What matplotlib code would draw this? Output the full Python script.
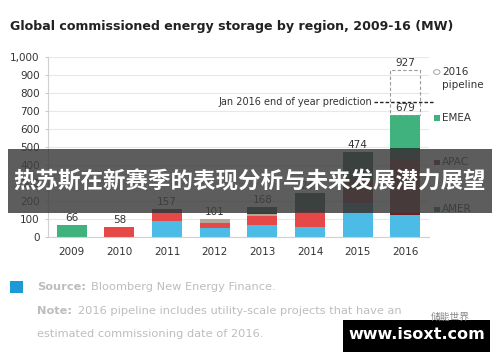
import numpy as np
import matplotlib.pyplot as plt
from matplotlib.patches import Rectangle, Circle

plt.rcParams['font.family'] = ['DejaVu Sans', 'Noto Sans CJK SC']

years = ['2009', '2010', '2011', '2012', '2013', '2014', '2015', '2016']
# segmentos de abajo hacia arriba (MW)
light_blue = [0, 0, 89, 48, 70, 57, 133, 122]
amer = [0, 0, 0, 0, 0, 0, 56, 0]
red = [0, 58, 46, 31, 45, 84, 0, 0]
tan = [0, 0, 0, 22, 15, 0, 0, 0]
apac = [0, 0, 22, 0, 0, 9, 131, 306]
dark_green = [0, 0, 0, 0, 38, 93, 154, 66]
emea = [66, 0, 0, 0, 0, 0, 0, 185]
pipeline_2016 = 248
prediction = 752
yticks = [0, 100, 200, 300, 400, 500, 600, 700, 800, 900, 1000]

series = [light_blue, amer, red, tan, apac, dark_green, emea]
colors = ['#4cbbe6', '#245b73', '#e64848', '#b3a89a', '#741d1f', '#1f4b37', '#3fb27d']

fig = plt.figure(figsize=(5, 3.62), dpi=100)
ax = fig.add_axes([0.096, 0.345, 0.762, 0.4975])

x = np.arange(len(years))
bottom = np.zeros(len(years))
for vals, c in zip(series, colors):
    ax.bar(x, vals, 0.63, bottom=bottom, color=c, zorder=2)
    bottom += np.array(vals)

totals = bottom
for i, t in enumerate(totals):
    ax.text(x[i], t + 12, str(int(t)), ha='center', va='bottom', fontsize=7.5, color='#333333')

# 2016 pipeline (caja punteada)
ax.bar(x[-1], pipeline_2016, 0.63, bottom=totals[-1], facecolor='none',
       edgecolor='#999999', linestyle=(0, (3, 2)), linewidth=0.8, zorder=2)
ax.text(x[-1], totals[-1] + pipeline_2016 + 12, str(int(totals[-1] + pipeline_2016)),
        ha='center', va='bottom', fontsize=7.5, color='#333333')

# prediccion
ax.plot([6.35, 7.6], [prediction, prediction], color='#222222', linestyle=(0, (2.5, 1.5)),
        linewidth=1, clip_on=False, zorder=3)
ax.text(6.3, prediction, 'Jan 2016 end of year prediction', ha='right', va='center',
        fontsize=7, color='#333333')

ax.set_xlim(-0.5, 7.5)
ax.set_ylim(0, 1000)
ax.set_xticks(x)
ax.set_xticklabels(years, fontsize=7.5, color='#333333')
ax.set_yticks(yticks)
ax.set_yticklabels(['{:,}'.format(v) for v in yticks], fontsize=7.5, color='#333333')
ax.yaxis.grid(True, color='#e8e8e8', linewidth=0.8, zorder=0)
ax.tick_params(axis='both', length=2, color='#cccccc', pad=4)
ax.tick_params(axis='x', length=0, pad=7)
for s in ['top', 'right']:
    ax.spines[s].set_visible(False)
for s in ['left', 'bottom']:
    ax.spines[s].set_color('#d0d0d0')

# leyenda
fig.patches.append(Circle((0.8735, 0.801), 0.0065, transform=fig.transFigure,
                          facecolor='white', edgecolor='#999999', linewidth=0.6))
fig.text(0.884, 0.801, '2016', fontsize=7.5, color='#333333', va='center')
fig.text(0.884, 0.765, 'pipeline', fontsize=7.5, color='#333333', va='center')
legend = [('EMEA', '#3fb27d', 0.674), ('APAC', '#741d1f', 0.552), ('AMER', '#245b73', 0.422)]
for label, c, yy in legend:
    fig.patches.append(Rectangle((0.868, yy - 0.008), 0.011, 0.015, transform=fig.transFigure,
                                 facecolor=c, edgecolor='none'))
    fig.text(0.884, yy, label, fontsize=7.5, color='#333333', va='center')

fig.text(0.02, 0.928, 'Global commissioned energy storage by region, 2009-16 (MW)',
         fontsize=9.1, fontweight='bold', color='#222222', va='center')

# fuente
fig.patches.append(Rectangle((0.02, 0.19), 0.025, 0.033, transform=fig.transFigure,
                             facecolor='#1b9ad6', edgecolor='none'))
fig.text(0.074, 0.207, 'Source:', fontsize=8.2, fontweight='bold', color='#bdbdbd', va='center')
fig.text(0.182, 0.207, 'Bloomberg New Energy Finance.', fontsize=8.2, color='#bdbdbd', va='center')
fig.text(0.074, 0.141, 'Note:', fontsize=8.2, fontweight='bold', color='#bdbdbd', va='center')
fig.text(0.156, 0.141, '2016 pipeline includes utility-scale projects that have an',
         fontsize=8.2, color='#bdbdbd', va='center')
fig.text(0.074, 0.077, 'estimated commissioning date of 2016.', fontsize=8.2,
         color='#bdbdbd', va='center')

# marcas de agua
fig.patches.append(Rectangle((0.016, 0.412), 0.968, 0.177, transform=fig.transFigure,
                             facecolor='#404040', alpha=0.85, edgecolor='none', zorder=5))
fig.text(0.5, 0.498, '热苏斯在新赛季的表现分析与未来发展潜力展望', ha='center', va='center',
         fontsize=16.2, fontweight='bold', color='white', zorder=6,
         family=['Noto Sans CJK SC', 'DejaVu Sans'])
fig.patches.append(Rectangle((0.686, 0.028), 0.294, 0.088, transform=fig.transFigure,
                             facecolor='black', edgecolor='none', zorder=5))
fig.text(0.833, 0.075, 'www.isoxt.com', ha='center', va='center', fontsize=11.5,
         fontweight='bold', color='white', zorder=6)
fig.text(0.9, 0.125, '储能世界', ha='center', va='center', fontsize=7,
         color='#888888', zorder=6, family=['Noto Sans CJK SC', 'DejaVu Sans'])

fig.savefig('out.png', dpi=100)
